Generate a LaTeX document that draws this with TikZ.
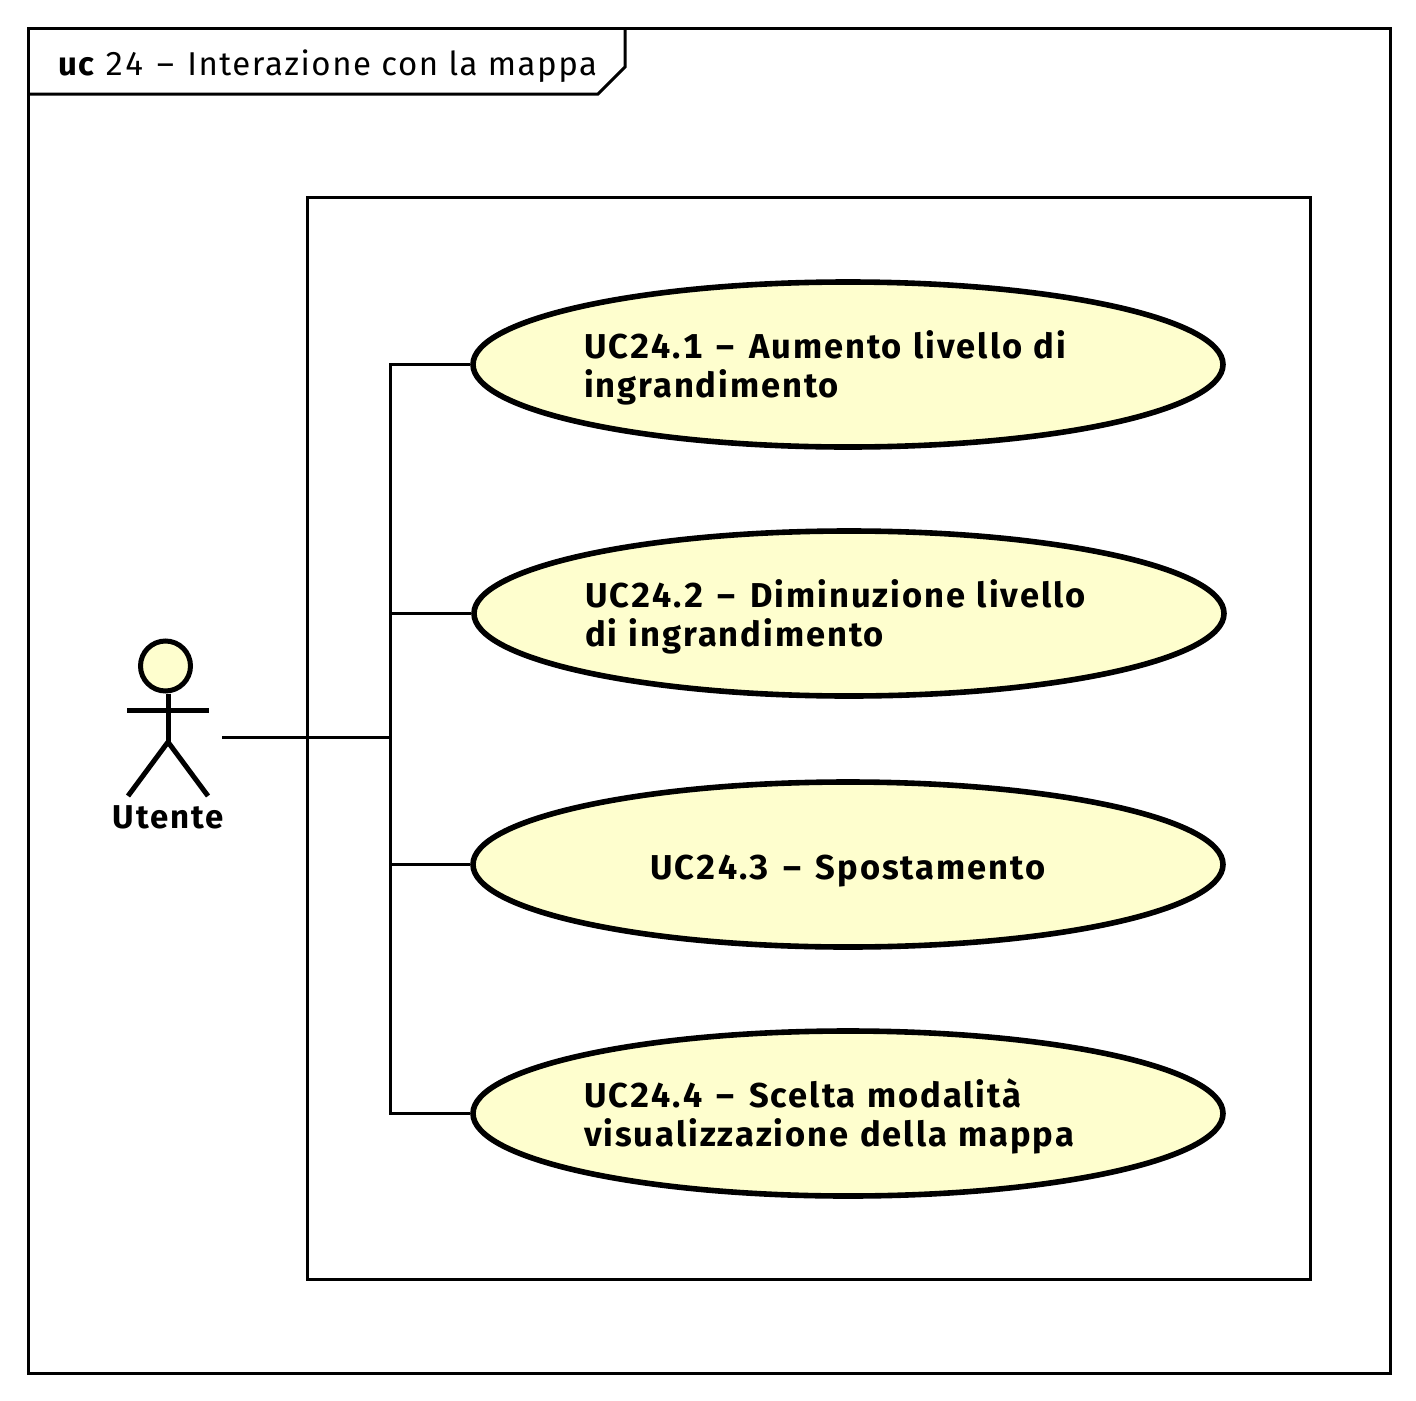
\documentclass[tikz,border=0pt]{standalone}
\usepackage{fontspec}
\setmainfont{Fira Sans}
\newfontfamily\ucfont[LetterSpace=5.7,Numbers=Monospaced]{Fira Sans}
\newfontfamily\titlefont[LetterSpace=4.7,Numbers=Monospaced]{Fira Sans}
\usetikzlibrary{shapes.geometric}
\definecolor{ucfill}{HTML}{FEFECE}
\newcommand{\ucfirstline}{\rule{0pt}{36pt}}
\newcommand{\uclastline}{\rule[-10pt]{0pt}{10pt}}
\newcommand{\uconlyline}{\rule[-7pt]{0pt}{45pt}}
\newcommand{\wdash}{\ \kern3pt–\kern3pt\ }
\tikzset{
  frameline/.style={draw=black,line width=3pt},
  link/.style={draw=black,line width=3pt},
  figure/.style={draw=black,line width=5pt},
  usecase/.style={ellipse,draw=black,fill=ucfill,line width=5.6pt,minimum width=750pt,minimum height=165pt,inner sep=0pt,
    text width=528pt,font=\ucfont\fontsize{34.5}{39}\selectfont\bfseries},
  actorlabel/.style={font=\ucfont\fontsize{33}{39}\selectfont\bfseries,inner sep=0pt,anchor=base},
  titlelabel/.style={font=\titlefont\fontsize{33}{39}\selectfont,inner sep=0pt,anchor=base west}
}
\begin{document}
\begin{tikzpicture}[x=1pt,y=-1pt]
\useasboundingbox[fill=white] (0,0) rectangle (1416,1400);
\draw[frameline] (28,28) rectangle (1390,1373);
\draw[frameline,line join=miter] (625,28) -- (625,67) -- (598,94) -- (27,94);
\node[titlelabel] (title) at (58,75) {{\ucfont\bfseries uc} 24\wdash Interazione con la mappa};
\draw[frameline] (307,197) rectangle (1310,1279);
\node[usecase,align=left] (uc1) at (848,364.5) {\ucfirstline UC24.1\wdash Aumento livello di\\ingrandimento\uclastline};
\node[usecase,align=left] (uc2) at (849,613.5) {\ucfirstline UC24.2\wdash Diminuzione livello\\di ingrandimento\uclastline};
\node[usecase,align=center] (uc3) at (848,864.5) {\uconlyline UC24.3\wdash Spostamento};
\node[usecase,align=left] (uc4) at (848,1113.5) {\ucfirstline UC24.4\wdash Scelta modalità\\visualizzazione della mappa\uclastline};
% actor
\node[circle,draw=black,fill=ucfill,line width=5pt,minimum size=50pt,inner sep=0pt] (head) at (165.5,666) {};
\coordinate (hip) at (168,742);
\coordinate (armL) at (127,710);
\coordinate (armR) at (209,710);
\coordinate (footL) at (128,796);
\coordinate (footR) at (208,796);
\draw[figure] (head.south -| hip) -- (hip);
\draw[figure] (armL) -- (armR);
\draw[figure] (footL) -- (hip) -- (footR);
\node[actorlabel] (utente) at (168,828) {Utente};
% connectors
\coordinate (port) at (222,737);
\coordinate (junction) at (390,737);
\draw[link] (port) -- (junction);
\draw[link] (junction) |- (uc1.west);
\draw[link] (junction) |- (uc2.west);
\draw[link] (junction) |- (uc3.west);
\draw[link] (junction) |- (uc4.west);
\end{tikzpicture}
\end{document}
